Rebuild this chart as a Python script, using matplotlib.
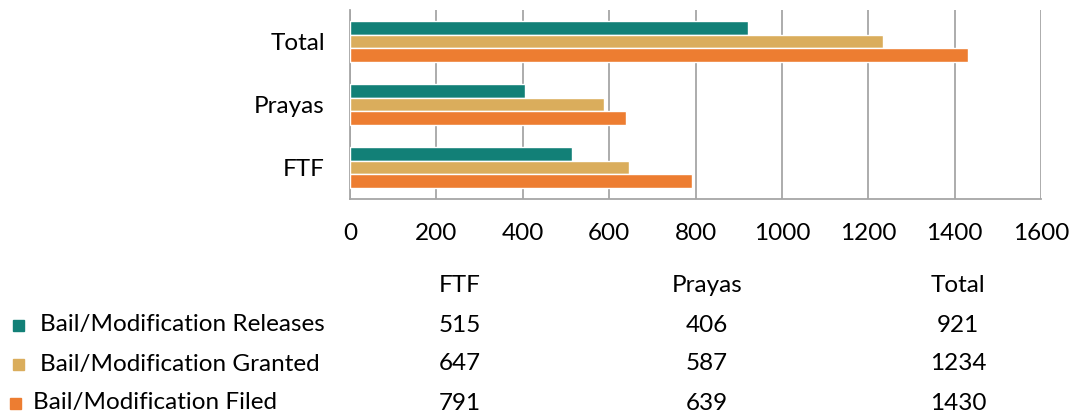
import matplotlib
matplotlib.use("Agg")
import matplotlib.pyplot as plt
import numpy as np

plt.rcParams['font.family'] = ['Lato', 'DejaVu Sans']

categories = ["FTF", "Prayas", "Total"]
series_names = ["Bail/Modification Releases", "Bail/Modification Granted", "Bail/Modification Filed"]
releases = [515, 406, 921]
granted = [647, 587, 1234]
filed = [791, 639, 1430]
series_values = [releases, granted, filed]
colors = ["#128077", "#DAAD5C", "#ED7D31"]
x_ticks = [0, 200, 400, 600, 800, 1000, 1200, 1400, 1600]

W, H = 1075, 417
fig = plt.figure(figsize=(W / 100, H / 100), dpi=100)
ax = fig.add_axes([350 / W, 1 - 199 / H, (1041 - 350) / W, (199 - 10) / H])

y = np.arange(len(categories))
bh = 0.217
offsets = [bh, 0, -bh]
for vals, off, c in zip(series_values, offsets, colors):
    ax.barh(y + off, vals, height=bh, color=c, edgecolor="white", linewidth=1.0, zorder=3)

ax.set_xlim(0, 1600)
ax.set_ylim(-0.5, 2.5)
ax.set_xticks(x_ticks)
ax.set_xticklabels([str(t) for t in x_ticks])
ax.set_yticks(y)
ax.set_yticklabels(categories)
ax.tick_params(axis="both", length=0, labelsize=17.5, colors="#000000")
ax.tick_params(axis="x", pad=17)
ax.tick_params(axis="y", pad=18)
ax.grid(axis="x", color="#A6A6A6", linewidth=1.3, zorder=0)
for s in ["top", "right"]:
    ax.spines[s].set_visible(False)
for s in ["left", "bottom"]:
    ax.spines[s].set_color("#A6A6A6")
    ax.spines[s].set_linewidth(1.3)

# data table below
col_x = [460, 707, 958]
header_y = 285
row_y = [325, 364, 403]
label_x = [40, 40, 33]
marker_x = [18, 18, 15]
fs = 17.5
for cx, cat in zip(col_x, categories):
    fig.text(cx / W, 1 - header_y / H, cat, ha="center", va="center", fontsize=fs)
for i, (name, vals, c) in enumerate(zip(series_names, series_values, colors)):
    yy = 1 - row_y[i] / H
    fig.patches.append(plt.Rectangle(((marker_x[i] - 5.5) / W, yy - 5.5 / H), 11 / W, 11 / H,
                                     transform=fig.transFigure, color=c, figure=fig))
    fig.text(label_x[i] / W, yy, name, ha="left", va="center", fontsize=fs)
    for cx, v in zip(col_x, vals):
        fig.text(cx / W, yy, str(v), ha="center", va="center", fontsize=fs)

fig.savefig("out.png", dpi=100)
